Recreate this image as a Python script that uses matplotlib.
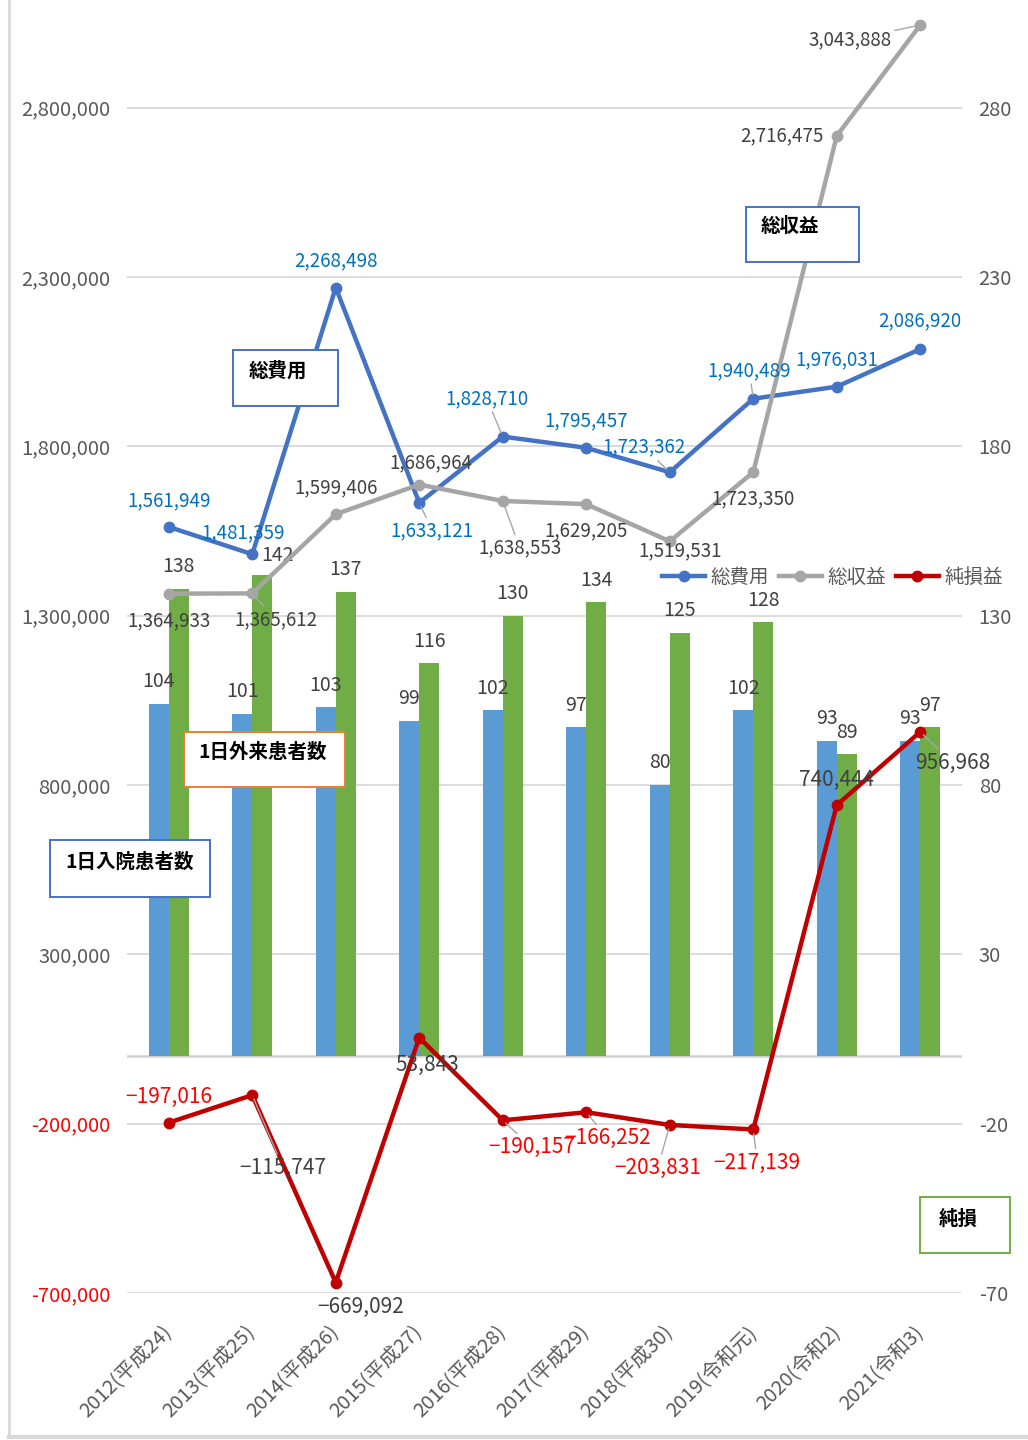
import matplotlib
matplotlib.use("Agg")
import matplotlib.pyplot as plt
import numpy as np
from matplotlib.patches import Rectangle
from matplotlib.lines import Line2D

plt.rcParams['font.family'] = ['Noto Sans CJK JP', 'DejaVu Sans']
plt.rcParams['axes.unicode_minus'] = False

# ---- data ----
categories = ["2012(平成24)", "2013(平成25)", "2014(平成26)", "2015(平成27)", "2016(平成28)",
              "2017(平成29)", "2018(平成30)", "2019(令和元)", "2020(令和2)", "2021(令和3)"]
inpatients = [104, 101, 103, 99, 102, 97, 80, 102, 93, 93]
outpatients = [138, 142, 137, 116, 130, 134, 125, 128, 89, 97]
total_cost = [1561949, 1481359, 2268498, 1633121, 1828710, 1795457, 1723362, 1940489, 1976031, 2086920]
total_revenue = [1364933, 1365612, 1599406, 1686964, 1638553, 1629205, 1519531, 1723350, 2716475, 3043888]
net_income = [-197016, -115747, -669092, 53843, -190157, -166252, -203831, -217139, 740444, 956968]
left_ticks = [-700000, -200000, 300000, 800000, 1300000, 1800000, 2300000, 2800000]
right_ticks = [-70, -20, 30, 80, 130, 180, 230, 280]

W, H = 1028, 1440
fig = plt.figure(figsize=(W / 100, H / 100), dpi=100)
fig.patch.set_facecolor('white')

ax = fig.add_axes([127 / W, 1 - 1293 / H, 835 / W, 1287 / H])
ax2 = ax.twinx()
ax.set_zorder(2)
ax.patch.set_visible(False)

x = np.arange(len(categories))

# bars on right axis
ax2.bar(x - 0.12, inpatients, width=0.24, color='#5B9BD5', zorder=2)
ax2.bar(x + 0.12, outpatients, width=0.24, color='#70AD47', zorder=2)
ax2.set_ylim(-70, 310)
ax2.set_yticks(right_ticks)
ax2.set_yticklabels([str(t) for t in right_ticks])
ax2.grid(axis='y', color='#D9D9D9', lw=1.3, zorder=0)
ax2.set_axisbelow(True)
ax2.axhline(0, color='#D0D0D0', lw=1.8, zorder=1)
ax2.tick_params(axis='y', length=0, pad=12, labelcolor='#595959', labelsize=14.5)

# lines on left axis
gray_txt = '#404040'
l1, = ax.plot(x, total_cost, color='#4472C4', lw=3.2, marker='o', ms=7.5, zorder=3)
l2, = ax.plot(x, total_revenue, color='#A5A5A5', lw=3.2, marker='o', ms=7.5, zorder=3)
l3, = ax.plot(x, net_income, color='#C00000', lw=3.2, marker='o', ms=7.5, zorder=4)
ax.set_xlim(-0.5, 9.5)
ax.set_ylim(-700000, 3100000)
ax.set_yticks(left_ticks)
ax.set_yticklabels([f"{t:,}" for t in left_ticks])
ax.tick_params(axis='y', length=0, pad=12, labelsize=14.5)
for t, lab_ in zip(left_ticks, ax.get_yticklabels()):
    lab_.set_color('#FF0000' if t < 0 else '#595959')
ax.set_xticks(x)
ax.set_xticklabels(categories, rotation=45, ha='right', va='center', rotation_mode='anchor')
ax.tick_params(axis='x', length=0, pad=26, labelsize=14.5, labelcolor='#595959')
for a in (ax, ax2):
    for s in a.spines.values():
        s.set_visible(False)

leader = dict(arrowstyle='-', color='#A6A6A6', lw=1.0, shrinkA=0, shrinkB=3)

def lab(a, i, v, text, dx, dy, color, lead=False, fs=13):
    kw = {}
    if lead:
        kw['arrowprops'] = leader
    a.annotate(text, (i, v), xytext=(dx, dy), textcoords='offset pixels', ha='center', va='center',
               fontsize=fs, color=color, zorder=6, **kw)

cost_off = [(0, 26, 0), (-9, 21, 0), (0, 27, 0), (13, -28, 1), (-16, 38, 1), (0, 27, 0),
            (-26, 25, 1), (-4, 28, 1), (0, 27, 0), (0, 28, 0)]
for i, v in enumerate(total_cost):
    dx, dy, ld = cost_off[i]
    lab(ax, i, v, f"{v:,}", dx, dy, '#0070C0', bool(ld), fs=13.5)

rev_off = [(0, -27, 0), (24, -26, 1), (0, 26, 0), (12, 22, 0), (17, -47, 1), (0, -27, 0),
           (10, -10, 0), (0, -27, 0), (-55, 0, 0), (-70, -15, 1)]
for i, v in enumerate(total_revenue):
    dx, dy, ld = rev_off[i]
    lab(ax, i, v, f"{v:,}", dx, dy, gray_txt, bool(ld), fs=13.5)

net_off = [(0, 26, 0), (31, -73, 1), (25, -24, 0), (8, -27, 0), (29, -27, 1), (21, -26, 1),
           (-12, -43, 1), (4, -33, 1), (0, 25, 0), (32, -31, 1)]
net_red = [True, False, False, False, True, True, True, True, False, False]
for i, v in enumerate(net_income):
    dx, dy, ld = net_off[i]
    s = f"{v:,}".replace('-', '−')
    lab(ax, i, v, s, dx, dy, '#FF0000' if net_red[i] else gray_txt, bool(ld), fs=15)

in_off = [(0, 22)] * len(inpatients)
out_off = [(0, 22)] * len(outpatients)
out_off[1] = (15, 19)
for i, v in enumerate(inpatients):
    lab(ax2, i - 0.12, v, str(v), in_off[i][0], in_off[i][1], gray_txt, fs=14)
for i, v in enumerate(outpatients):
    lab(ax2, i + 0.12, v, str(v), out_off[i][0], out_off[i][1], gray_txt, fs=14)

leg = ax.legend([l1, l2, l3], ["総費用", "総収益", "純損益"], loc='center', bbox_to_anchor=(0.845, 0.556),
                ncol=3, frameon=False, fontsize=14, handlelength=2.2, columnspacing=0.5,
                handletextpad=0.3, labelcolor='#595959', borderaxespad=0)
leg.set_zorder(7)

def box(x0, y0, x1, y1, text, edge, tx, ty):
    fig.add_artist(Rectangle((x0 / W, 1 - y1 / H), (x1 - x0) / W, (y1 - y0) / H, transform=fig.transFigure,
                             facecolor='white', edgecolor=edge, lw=1.4, zorder=10))
    fig.text(tx / W, 1 - ty / H, text, ha='center', va='center', fontsize=14, fontweight='bold',
             color='black', zorder=11)

box(233, 350, 338, 406, "総費用", '#4472C4', 278, 371)
box(746, 207, 859, 262, "総収益", '#4472C4', 790, 227)
box(184, 732, 345, 787, "1日外来患者数", '#ED7D31', 263, 752)
box(50, 840, 210, 897, "1日入院患者数", '#4472C4', 130, 862)
box(920, 1197, 1010, 1253, "純損", '#70AD47', 958, 1219)

# outer frame
fig.add_artist(Line2D([9 / W, 9 / W], [1 - 1436 / H, 1], transform=fig.transFigure, color='#D9D9D9', lw=2))
fig.add_artist(Line2D([9 / W, 1 + 0.01], [1 - 1436.5 / H, 1 - 1436.5 / H], transform=fig.transFigure,
                      color='#D9D9D9', lw=3))

fig.savefig("out.png", dpi=100, facecolor='white')
